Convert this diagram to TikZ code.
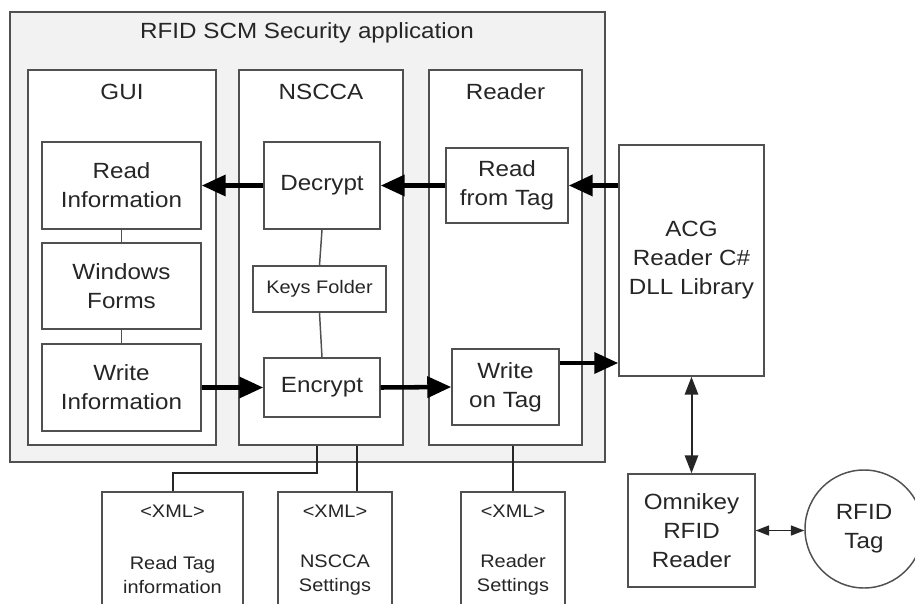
\documentclass[tikz,border=0pt]{standalone}
\usepackage{fontspec}
\setmainfont{Liberation Sans}[FakeStretch=1.1]
\usetikzlibrary{arrows.meta,fit,calc}
\definecolor{lc}{HTML}{505050}
\definecolor{tc}{HTML}{262626}
\definecolor{bgc}{HTML}{F2F2F2}
\newcommand\mainsz{\fontsize{16.5}{21.75}\selectfont}
\newcommand\smallsz{\fontsize{13.6}{18}\selectfont}
\tikzset{
  box/.style={draw=lc, line width=1.1pt, fill=white, inner sep=0pt},
  outerbox/.style={draw=lc, line width=1.3pt, fill=bgc, inner sep=0pt},
  txt/.style={text=tc, font=\mainsz, align=center, inner sep=0pt},
  smalltxt/.style={text=tc, font=\smallsz, align=center, inner sep=0pt},
  thin/.style={draw=lc, line width=1.1pt},
  conn/.style={draw=black!85, line width=1.5pt},
  big/.style={line width=3.4pt, -{Triangle[length=18pt,width=15.5pt]}},
  dbl/.style={line width=1.5pt, draw=black!85, {Triangle[length=13.5pt,width=10pt]}-{Triangle[length=13.5pt,width=10pt]}},
  dbls/.style={line width=1.1pt, draw=black!85, {Triangle[length=10pt,width=7.5pt]}-{Triangle[length=10pt,width=7.5pt]}},
}
\begin{document}
\begin{tikzpicture}[x=0.75pt,y=-0.75pt]
\useasboundingbox (0,0) rectangle (915,604);
\clip (0,0) rectangle (915,604);
\fill[white] (0,0) rectangle (915,604);
% application frame
\node[outerbox, fit={(10,12) (605,462)}] (app) {};
\node[txt] (title) at (307,33) {RFID SCM Security application};
% columns
\node[box, fit={(28,70) (216,445)}] (gui) {};
\node[box, fit={(239,70) (403,445)}] (nscca) {};
\node[box, fit={(429,70) (582,445)}] (reader) {};
\node[txt] (guil) at (122,92) {GUI};
\node[txt] (nsccal) at (321,92) {NSCCA};
\node[txt] (readerl) at (505.5,92) {Reader};
% GUI boxes
\node[box, fit={(42,142) (201,229)}] (readinfo) {};
\node[box, fit={(42,243) (201,329)}] (winforms) {};
\node[box, fit={(42,344) (201,431)}] (writeinfo) {};
\node[txt] (readinfot) at (readinfo.center) {Read\\Information};
\node[txt] (winformst) at (winforms.center) {Windows\\Forms};
\node[txt] (writeinfot) at (writeinfo.center) {Write\\Information};
% NSCCA boxes
\node[box, fit={(264,142) (380,229)}] (decrypt) {};
\node[box, fit={(253,266) (386,312)}] (keys) {};
\node[box, fit={(264,358) (380,417)}] (encrypt) {};
\node[txt] (decryptt) at (decrypt.center) {Decrypt};
\node[smalltxt] (keyst) at (keys.center) {Keys Folder};
\node[txt] (encryptt) at (encrypt.center) {Encrypt};
% Reader boxes
\node[box, fit={(446,148) (568,223)}] (readtag) {};
\node[box, fit={(452,349) (559,425)}] (writetag) {};
\node[txt] (readtagt) at (readtag.center) {Read\\from Tag};
\node[txt] (writetagt) at (writetag.center) {Write\\on Tag};
% external
\node[box, fit={(619,145) (764,376)}] (acg) {};
\node[txt] (acgt) at (acg.center) {ACG\\Reader C\#\\DLL Library};
\node[box, fit={(628,474) (755,587)}] (omni) {};
\node[txt] (omnit) at (omni.center) {Omnikey\\RFID\\Reader};
\node[box, circle, minimum size=88.5pt] (tag) at (864,529) {};
\node[txt] (tagt) at (tag.center) {RFID\\Tag};
% XML files
\node[box, fit={(102,492) (243,625)}] (xml1) {};
\node[box, fit={(278,492) (392,625)}] (xml2) {};
\node[box, fit={(461,492) (565,625)}] (xml3) {};
\node[smalltxt] (x1a) at (172.5,511) {<XML>};
\node[smalltxt] (x1b) at (172.5,575) {Read Tag\\information};
\node[smalltxt] (x2a) at (335,511) {<XML>};
\node[smalltxt] (x2b) at (335,575) {NSCCA\\Settings};
\node[smalltxt] (x3a) at (513,511) {<XML>};
\node[smalltxt] (x3b) at (513,575) {Reader\\Settings};
% thin internal links
\draw[thin] (readinfo.south) -- (winforms.north);
\draw[thin] (winforms.south) -- (writeinfo.north);
\draw[thin] (decrypt.south) -- (keys.north);
\draw[thin] (keys.south) -- (encrypt.north);
% data flow arrows
\draw[big] (acg.west |- readtag.east) -- (readtag.east);
\draw[big] (readtag.west) -- (decrypt.east);
\draw[big] (decrypt.west) -- (readinfo.east);
\draw[big] (writeinfo.east) -- (encrypt.west);
\draw[big] (encrypt.east) -- (writetag.west);
\coordinate (wt) at ($(writetag.east)+(0,-24)$);
\draw[big] (wt) -- (wt -| acg.west);
\draw[dbl] (acg.south) -- (omni.north);
\draw[dbls] (omni.east) -- (omni.east -| tag.west);
% links to XML files
\coordinate (k1) at (317,473);
\draw[conn] (nscca.south -| k1) -- (k1) -| (xml1.north);
\coordinate (k2) at (357,473);
\draw[conn] (nscca.south -| k2) -- (xml2.north -| k2);
\draw[conn] (reader.south -| xml3.north) -- (xml3.north);
\end{tikzpicture}
\end{document}
